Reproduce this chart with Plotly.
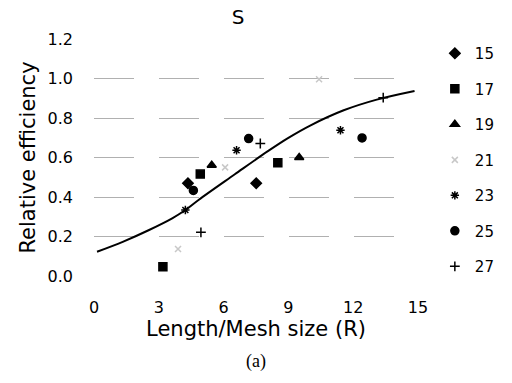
import plotly.graph_objects as go

# Fitted selectivity curve
curve_x = [0.14, 1.33, 2.55, 3.62, 4.23, 4.84, 6.52, 8.05, 8.96, 10.03, 11.56, 13.09, 14.84]
curve_y = [0.123, 0.173, 0.233, 0.292, 0.334, 0.385, 0.515, 0.632, 0.697, 0.763, 0.839, 0.893, 0.937]

# Observed points by group
g15_x = [4.35, 7.51]
g15_y = [0.47, 0.47]
g17_x = [3.19, 4.92, 8.51]
g17_y = [0.047, 0.516, 0.573]
g19_x = [5.45, 9.50]
g19_y = [0.561, 0.600]
g21_x = [3.89, 6.07, 10.42]
g21_y = [0.137, 0.55, 0.996]
g23_x = [4.23, 6.60, 11.41]
g23_y = [0.334, 0.637, 0.738]
g25_x = [4.60, 7.16, 12.41]
g25_y = [0.433, 0.696, 0.699]
g27_x = [4.95, 7.70, 13.39]
g27_y = [0.221, 0.671, 0.903]

group_names = ["15", "17", "19", "21", "23", "25", "27"]
xs = [g15_x, g17_x, g19_x, g21_x, g23_x, g25_x, g27_x]
ys = [g15_y, g17_y, g19_y, g21_y, g23_y, g25_y, g27_y]
symbols = ["diamond", "square", "triangle-up", "x-thin-open", "asterisk-open", "circle", "cross-thin-open"]
sizes = [8, 8, 8, 6, 7, 8, 7]
colors = ["black", "black", "black", "#c8c8c8", "black", "black", "black"]

fig = go.Figure()
fig.add_trace(go.Scatter(x=curve_x, y=curve_y, mode="lines", line=dict(color="black", width=2, shape="spline"),
                         showlegend=False, hoverinfo="skip"))
for i, name in enumerate(group_names):
    fig.add_trace(go.Scatter(
        x=xs[i], y=ys[i], mode="markers", name=name, legendgroup=name,
        marker=dict(symbol=symbols[i], size=sizes[i], color=colors[i],
                    line=dict(color=colors[i], width=1.5)),
    ))

font_family = "DejaVu Sans, Liberation Sans, Arial, sans-serif"
fig.update_layout(
    width=512, height=383,
    margin=dict(l=94, r=90, t=39, b=107),
    paper_bgcolor="white", plot_bgcolor="white",
    font=dict(family=font_family, color="black", size=16),
    title=dict(text="S", x=0.465, xanchor="center", y=0.955, yanchor="middle",
               font=dict(size=20, family=font_family)),
    xaxis=dict(range=[0, 15], tickvals=[0, 3, 6, 9, 12, 15], showgrid=False, zeroline=False,
               showline=False, ticks="", ticklabelstandoff=20,
               title=dict(text="Length/Mesh size (R)", font=dict(size=21), standoff=0),
               tickfont=dict(size=16)),
    yaxis=dict(range=[0, 1.2], tickvals=[0, 0.2, 0.4, 0.6, 0.8, 1.0, 1.2], tickformat=".1f",
               showgrid=True, gridcolor="#b0b0b0", gridwidth=1, griddash="40px,25px",
               zeroline=False, showline=False, ticks="", ticklabelstandoff=20,
               title=dict(text="Relative efficiency", font=dict(size=21), standoff=6),
               tickfont=dict(size=16)),
    legend=dict(x=1.052, xanchor="left", y=1.008, yanchor="top", xref="paper",
                font=dict(size=15), tracegroupgap=13, bgcolor="rgba(0,0,0,0)",
                itemwidth=30, maxheight=383),
    annotations=[dict(text="(a)", x=0.5, xref="paper", y=0, yref="paper", yanchor="middle",
                      showarrow=False, font=dict(size=18, family="Liberation Serif, Times New Roman, serif"))],
)
# place "(a)" at pixel y=361 by converting to paper coords
plot_h = 383 - 39 - 107
fig.layout.annotations[0].y = (383 - 107 - 361) / plot_h

fig.write_html("out.html")
